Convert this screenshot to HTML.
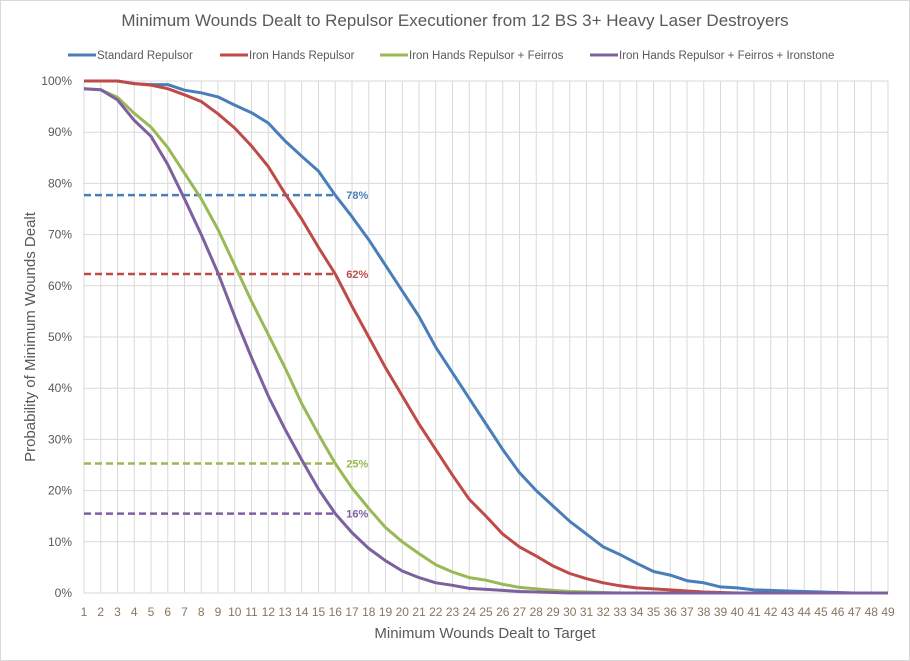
<!DOCTYPE html>
<html><head><meta charset="utf-8"><style>body{margin:0;background:#fff}svg{display:block;font-family:"Liberation Sans",sans-serif}</style></head>
<body>
<svg id="c" width="910" height="661" xmlns="http://www.w3.org/2000/svg"></svg>
<script>
var s=document.getElementById('c'),h='';
var X0=84,DX=16.75,Y0=593,YS=5.12;
function px(i){return X0+(i-1)*DX}function py(v){return Y0-v*YS}
h+='<rect x="0.5" y="0.5" width="909" height="660" fill="#fff" stroke="#d9d9d9"/>';
for(var i=1;i<=49;i++){var x=px(i);h+='<line x1="'+x+'" y1="'+py(100)+'" x2="'+x+'" y2="'+Y0+'" stroke="#d9d9d9"/>';
h+='<text x="'+x+'" y="616" font-size="12" fill="#8a7560" text-anchor="middle">'+i+'</text>';}
for(var v=0;v<=100;v+=10){var y=py(v);h+='<line x1="'+X0+'" y1="'+y+'" x2="888" y2="'+y+'" stroke="#d9d9d9"/>';
h+='<text x="72" y="'+(y+4)+'" font-size="12" fill="#595959" text-anchor="end">'+v+'%</text>';}
var D={
b:['#4a7ebb',[100,100,100,99.5,99.3,99.3,98.2,97.7,96.9,95.3,93.8,91.8,88.3,85.3,82.4,77.7,73.5,69,64,59,54,48,43,38,33,28,23.5,20,17,14,11.5,9,7.5,5.8,4.2,3.5,2.4,2,1.2,1,0.6,0.5,0.4,0.3,0.2,0.1,0,0,0]],
r:['#be4b48',[100,100,100,99.5,99.2,98.5,97.3,96,93.6,90.8,87.3,83.3,78,73,67.5,62.3,56,50,44,38.5,33,28,23,18.3,15,11.5,9,7.2,5.3,3.8,2.8,2,1.4,1,0.8,0.6,0.4,0.2,0.1,0,0,0,0,0,0,0,0,0,0]],
g:['#98b954',[98.5,98.3,96.8,93.7,91,87,82,77,71,64,57,50.5,44,37,31,25.3,20.5,16.5,12.8,10,7.7,5.5,4.1,3,2.5,1.7,1.1,0.8,0.5,0.3,0.2,0.1,0,0,0,0,0,0,0,0,0,0,0,0,0,0,0,0,0]],
p:['#7d60a0',[98.5,98.3,96.3,92.3,89.2,83.7,77,70,62.5,54,46,38.5,32,26,20.3,15.5,11.8,8.7,6.3,4.3,3,2,1.5,0.9,0.7,0.5,0.3,0.2,0.1,0,0,0,0,0,0,0,0,0,0,0,0,0,0,0,0,0,0,0,0]]};
var dl=[['b',77.7,'78%'],['r',62.3,'62%'],['g',25.3,'25%'],['p',15.5,'16%']];
dl.forEach(function(d){var c=D[d[0]][0],y=py(d[1]);h+='<line x1="'+X0+'" y1="'+y+'" x2="'+px(16)+'" y2="'+y+'" stroke="'+c+'" stroke-width="2.5" stroke-dasharray="7,4"/>';
h+='<text x="'+(px(16)+11)+'" y="'+(y+4)+'" font-size="11" font-weight="bold" fill="'+c+'">'+d[2]+'</text>';});
['b','r','g','p'].forEach(function(k){var c=D[k][0],a=D[k][1],pts=a.map(function(v,i){return px(i+1)+','+py(v).toFixed(1)}).join(' ');
h+='<polyline points="'+pts+'" fill="none" stroke="'+c+'" stroke-width="3" stroke-linejoin="round"/>';});
h+='<text x="455" y="26" font-size="17" fill="#595959" text-anchor="middle">Minimum Wounds Dealt to Repulsor Executioner from 12 BS 3+ Heavy Laser Destroyers</text>';
var lg=[[68,'#4a7ebb','Standard Repulsor'],[220,'#be4b48','Iron Hands Repulsor'],[380,'#98b954','Iron Hands Repulsor + Feirros'],[590,'#7d60a0','Iron Hands Repulsor + Feirros + Ironstone']];
lg.forEach(function(l){h+='<line x1="'+l[0]+'" y1="55" x2="'+(l[0]+28)+'" y2="55" stroke="'+l[1]+'" stroke-width="3"/><text x="'+(l[0]+29)+'" y="59" font-size="11.5" fill="#595959">'+l[2]+'</text>';});
h+='<text x="485" y="638" font-size="15" fill="#595959" text-anchor="middle">Minimum Wounds Dealt  to Target</text>';
h+='<text transform="translate(35,337) rotate(-90)" font-size="15" fill="#595959" text-anchor="middle">Probability of Minimum Wounds Dealt</text>';
s.innerHTML=h;
</script>
</body></html>
